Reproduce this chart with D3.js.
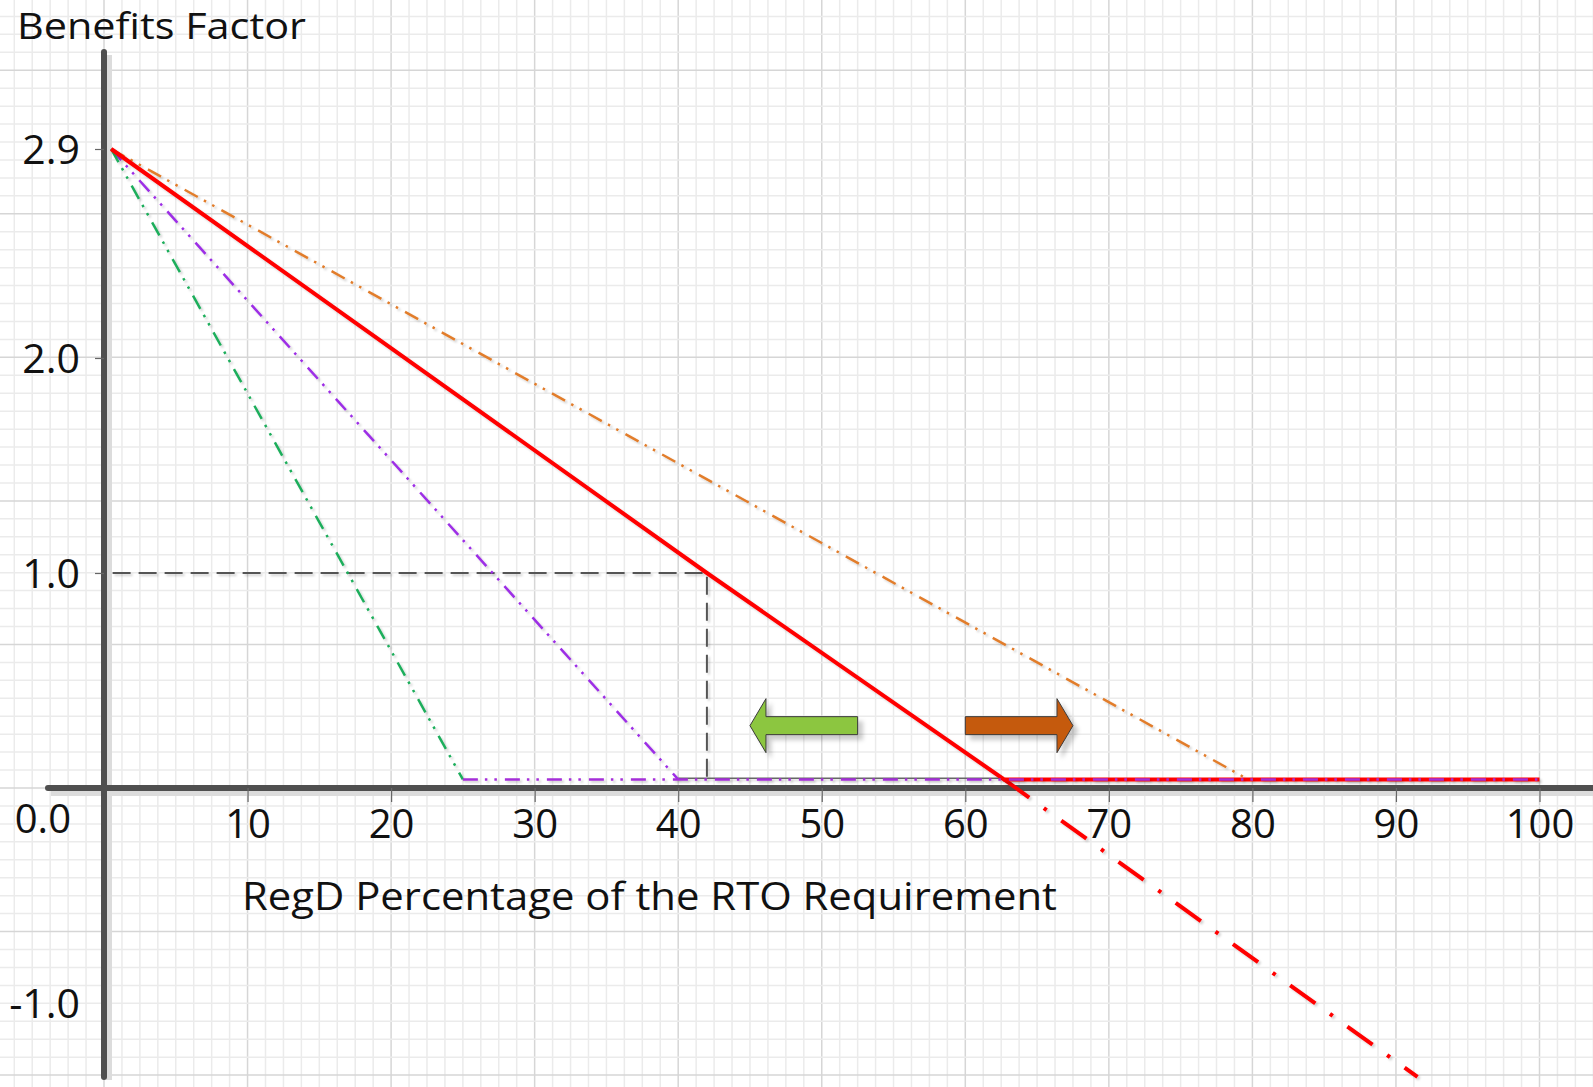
<!DOCTYPE html>
<html>
<head>
<meta charset="utf-8">
<script src="https://cdn.jsdelivr.net/npm/d3@7"></script>
<style>
body { margin: 0; background: #fff; }
text { font-family: "Open Sans", sans-serif; fill: #111; }
</style>
</head>
<body>
<script>
// values
var xTicks = [10, 20, 30, 40, 50, 60, 70, 80, 90, 100];
var yTicks = [2.9, 2.0, 1.0, -1.0];
var yTickLabels = ["2.9", "2.0", "1.0", "-1.0"];
var originLabel = "0.0";

// RegD line (solid red) and its dashed continuation below zero
var regdX = [0.5, 42, 62.7, 100];
var regdY = [2.9, 1.0, 0.04, 0.04];
var regdExtX = [62.7, 91.5];
var regdExtY = [0.04, -1.344];

// the other three benefit curves
var orangeX = [0.5, 79.7];
var orangeY = [2.9, 0.04];
var purpleX = [0.5, 40];
var purpleY = [2.9, 0.04];
var greenX = [0.5, 25];
var greenY = [2.9, 0.04];
var floorX = [25, 100];
var floorY = [0.04, 0.04];
var grayX = [40, 62.7];
var grayY = [0.045, 0.045];

// dashed guide to the 1.0 point
var guideX = [0.6, 42, 42];
var guideY = [1.0, 1.0, 0.04];

// arrows (tail, tip, level)
var arrowTail = [52.5, 60.0];
var arrowTip = [45.0, 67.5];
var arrowLevel = [0.29, 0.29];
var arrowFill = ["#8cc63f", "#c55a11"];

var W = 1593, H = 1087;

var svg = d3.select("body").append("svg")
    .attr("width", W)
    .attr("height", H);

// shadows in user space so flat (zero height) lines still show
var defs = svg.append("defs");
var sh = defs.append("filter").attr("id", "shadow")
    .attr("filterUnits", "userSpaceOnUse")
    .attr("x", 0).attr("y", 0).attr("width", W).attr("height", H);
sh.append("feDropShadow").attr("dx", 2).attr("dy", 2).attr("stdDeviation", 1)
    .attr("flood-color", "#000").attr("flood-opacity", 0.18);
var sh2 = defs.append("filter").attr("id", "arrowShadow")
    .attr("filterUnits", "userSpaceOnUse")
    .attr("x", 0).attr("y", 0).attr("width", W).attr("height", H);
sh2.append("feDropShadow").attr("dx", 5).attr("dy", 5).attr("stdDeviation", 2)
    .attr("flood-color", "#000").attr("flood-opacity", 0.2);

svg.append("rect").attr("width", W).attr("height", H).attr("fill", "#fff");

var x = d3.scaleLinear().domain([0, 100]).range([104, 1539.5]);
// the 2.9 mark sits above where a straight scale would put it
var y = d3.scaleLinear().domain([-1, 0, 1, 2, 2.9]).range([1003, 788, 573, 358, 149]);

// squared paper background, 8 small squares per 10 units
var cell = (x(10) - x(0)) / 8;
var grid = svg.append("g");
var kx = d3.range(Math.floor(-x(0) / cell), Math.ceil((W - x(0)) / cell) + 1);
var ky = d3.range(Math.floor(-y(0) / cell), Math.ceil((H - y(0)) / cell) + 1);
grid.selectAll(".vg").data(kx).enter().append("line")
    .attr("x1", function(k) { return x(0) + k * cell; })
    .attr("x2", function(k) { return x(0) + k * cell; })
    .attr("y1", 0).attr("y2", H)
    .attr("stroke", function(k) { return k % 8 == 0 ? "#d6d6d6" : "#ebebeb"; })
    .attr("stroke-width", 1.5);
grid.selectAll(".hg").data(ky).enter().append("line")
    .attr("y1", function(k) { return y(0) + k * cell; })
    .attr("y2", function(k) { return y(0) + k * cell; })
    .attr("x1", 0).attr("x2", W)
    .attr("stroke", function(k) { return k % 8 == 0 ? "#d6d6d6" : "#ebebeb"; })
    .attr("stroke-width", 1.5);

// axes
var axisG = svg.append("g");
axisG.append("line")
    .attr("x1", x(0)).attr("x2", x(0)).attr("y1", 52).attr("y2", 1077)
    .attr("stroke", "#dcdcdc").attr("stroke-width", 6).attr("transform", "translate(5,3)");
axisG.append("line")
    .attr("x1", 48).attr("x2", W + 5).attr("y1", y(0)).attr("y2", y(0))
    .attr("stroke", "#dcdcdc").attr("stroke-width", 6).attr("transform", "translate(3,5)");
axisG.append("line")
    .attr("x1", x(0)).attr("x2", x(0)).attr("y1", 52).attr("y2", 1077)
    .attr("stroke", "#4f4f4f").attr("stroke-width", 6).attr("stroke-linecap", "round");
axisG.append("line")
    .attr("x1", 48).attr("x2", W + 5).attr("y1", y(0)).attr("y2", y(0))
    .attr("stroke", "#4f4f4f").attr("stroke-width", 6).attr("stroke-linecap", "round");

var xAxis = svg.append("g")
    .attr("transform", "translate(0," + y(0) + ")")
    .call(d3.axisBottom(x).tickValues(xTicks).tickSize(14).tickFormat(d3.format("d")));
xAxis.select(".domain").remove();
xAxis.selectAll(".tick line").attr("stroke", "#666").attr("stroke-width", 1.2);
xAxis.selectAll(".tick text")
    .attr("y", 50).attr("dy", 0)
    .style("font-family", "'Open Sans', sans-serif")
    .style("font-size", "40px").attr("fill", "#111");

var yAxis = svg.append("g")
    .attr("transform", "translate(" + x(0) + ",0)")
    .call(d3.axisLeft(y).tickValues(yTicks).tickSize(9).tickPadding(15)
        .tickFormat(function(d, i) { return yTickLabels[i]; }));
yAxis.select(".domain").remove();
yAxis.selectAll(".tick line")
    .attr("stroke", function(d) { return d < 0 ? "none" : "#666"; })
    .attr("stroke-width", 1.2);
yAxis.selectAll(".tick text")
    .attr("dy", "0.36em")
    .style("font-family", "'Open Sans', sans-serif")
    .style("font-size", "41px").attr("fill", "#111");

svg.append("text")
    .attr("x", 71).attr("y", 833)
    .attr("text-anchor", "end")
    .style("font-size", "40px")
    .text(originLabel);

svg.append("text")
    .attr("x", 17).attr("y", 39)
    .style("font-size", "37px")
    .attr("textLength", 289).attr("lengthAdjust", "spacingAndGlyphs")
    .text("Benefits Factor");

svg.append("text")
    .attr("x", 242).attr("y", 910)
    .style("font-size", "39px")
    .attr("textLength", 815).attr("lengthAdjust", "spacingAndGlyphs")
    .text("RegD Percentage of the RTO Requirement");

// curves
var line = d3.line()
    .x(function(d) { return x(d[0]); })
    .y(function(d) { return y(d[1]); });
function pts(xs, ys) { return d3.zip(xs, ys); }

var plot = svg.append("g");
function drawPath(xs, ys, color, width, dash) {
    plot.append("path")
        .attr("d", line(pts(xs, ys)))
        .attr("fill", "none")
        .attr("stroke", color)
        .attr("stroke-width", width)
        .attr("stroke-dasharray", dash || null)
        .attr("filter", "url(#shadow)");
}

var dashDotDot = "15,7,2.5,7,2.5,8";
drawPath(guideX, guideY, "#555", 2, "18,8");
drawPath(grayX, grayY, "#666", 1.5, null);
drawPath(orangeX, orangeY, "#e27d2c", 2.5, dashDotDot);
drawPath(purpleX, purpleY, "#9d2ee6", 2.5, dashDotDot);
drawPath(greenX, greenY, "#1fae5b", 2.5, dashDotDot);
drawPath(regdExtX, regdExtY, "#ff0000", 4, "31,18,3.5,18");
drawPath(regdX, regdY, "#ff0000", 4, null);
drawPath(floorX, floorY, "#a52ed9", 2.5, dashDotDot);

// arrows
var arrows = d3.range(arrowTail.length).map(function(i) {
    return { tail: arrowTail[i], tip: arrowTip[i], level: arrowLevel[i], fill: arrowFill[i] };
});
plot.selectAll(".arrow").data(arrows).enter().append("path")
    .attr("d", function(d) {
        var xt = x(d.tail), xp = x(d.tip), yc = y(d.level);
        var dir = xp > xt ? 1 : -1;
        var hb = xp - dir * 16;
        return "M" + xt + "," + (yc - 9) + "L" + hb + "," + (yc - 9) + "L" + hb + "," + (yc - 27) +
            "L" + xp + "," + yc + "L" + hb + "," + (yc + 27) + "L" + hb + "," + (yc + 9) +
            "L" + xt + "," + (yc + 9) + "Z";
    })
    .attr("fill", function(d) { return d.fill; })
    .attr("stroke", "#3a3a3a")
    .attr("stroke-width", 1)
    .attr("filter", "url(#arrowShadow)");
</script>
</body>
</html>
